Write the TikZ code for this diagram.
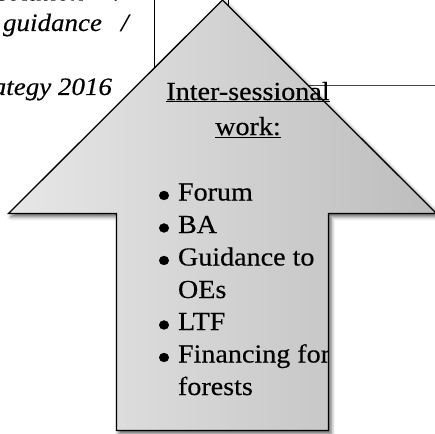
\documentclass[tikz,border=0pt]{standalone}
\usepackage{fontspec}
\setmainfont{Liberation Serif}[FakeStretch=1.08, FakeBold=0.35]
\usetikzlibrary{shadows.blur}
\definecolor{fillL}{HTML}{E7E7E7}
\definecolor{fillR}{HTML}{BDBDBD}
\definecolor{bgline}{HTML}{444444}
\tikzset{
  txt/.style={inner sep=0pt, outer sep=0pt, font=\fontsize{26}{32}\selectfont},
  itxt/.style={txt, font=\fontsize{25}{32}\selectfont\itshape},
  bul/.style={inner sep=0pt, outer sep=0pt, font=\fontsize{38}{38}\selectfont, anchor=center},
  bgrule/.style={draw=black, line width=0.9pt},
  arrowshape/.style={draw=black, line width=1.3pt, line join=miter,
    left color=fillL, right color=fillR,
    blur shadow={shadow xshift=2.5pt, shadow yshift=-3pt, shadow blur radius=4pt, shadow opacity=65}}
}
\begin{document}
\begin{tikzpicture}[x=1pt,y=-1pt]
\useasboundingbox (0,0) rectangle (435,433);
\clip (0,0) rectangle (435,433);
% background text (cut off)
\node[itxt, anchor=base east] (t1) at (84,0.5) {resolution};
\node[itxt, anchor=base west] (s1) at (116,0.5) {/};
\node[itxt, anchor=base west] (t2) at (3,31) {guidance};
\node[itxt, anchor=base west] (s2) at (121,31) {/};
\node[itxt, anchor=base east] (t3) at (112,95) {strategy 2016};
% background rules
\coordinate (v1a) at (154,-2);
\coordinate (v1b) at (154,120);
\coordinate (v2a) at (228,-2);
\coordinate (v2b) at (228,40);
\coordinate (h1a) at (290,85.5);
\coordinate (h1b) at (440,85.5);
\draw[bgrule] (v1a) -- (v1b);
\draw[bgrule] (v2a) -- (v2b);
\draw[draw=bgline, line width=1pt] (h1a) -- (h1b);
% arrow
\coordinate (tip) at (222.5,0);
\coordinate (rw) at (436.5,213.5);
\coordinate (rs) at (328.5,213.5);
\coordinate (rb) at (328.5,430.5);
\coordinate (lb) at (116.5,430.5);
\coordinate (ls) at (116.5,213.5);
\coordinate (lw) at (8.5,213.5);
\path[arrowshape] (tip) -- (rw) -- (rs) -- (rb) -- (lb) -- (ls) -- (lw) -- cycle;
% title
\node[txt, anchor=base] (title1) at (248,100) {\underline{Inter-sessional}};
\node[txt, anchor=base] (title2) at (248,135) {\underline{work:}};
% list
\begin{scope}
\clip (116.5,150) rectangle (328.5,433);
\node[bul] (b1) at (164,199.5) {•};
\node[txt, anchor=base west] (i1) at (178,200.5) {Forum};
\node[bul] (b2) at (164,232) {•};
\node[txt, anchor=base west] (i2) at (178,233) {BA};
\node[bul] (b3) at (164,264.5) {•};
\node[txt, anchor=base west] (i3) at (178,265.5) {Guidance to};
\node[txt, anchor=base west] (i3b) at (178,298) {OEs};
\node[bul] (b4) at (164,329) {•};
\node[txt, anchor=base west] (i4) at (178,330) {LTF};
\node[bul] (b5) at (164,361.5) {•};
\node[txt, anchor=base west] (i5) at (178,362.5) {Financing for};
\node[txt, anchor=base west] (i5b) at (178,395) {forests};
\end{scope}
\end{tikzpicture}
\end{document}
